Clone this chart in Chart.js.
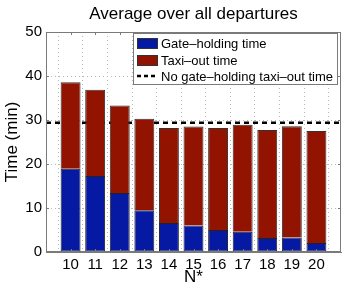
<!DOCTYPE html>
<html>
<head>
<meta charset="utf-8">
<script src="https://cdn.jsdelivr.net/npm/chart.js@4"></script>
<style>
  html, body { margin: 0; padding: 0; background: #fff; }
  #wrap { width: 346px; height: 290px; }
</style>
</head>
<body>
<div id="wrap"><canvas id="myChart" width="346" height="290"></canvas></div>
<script>
// values
const nStar = [10, 11, 12, 13, 14, 15, 16, 17, 18, 19, 20];
const gateHolding = [18.9, 17.3, 13.4, 9.5, 6.6, 6.05, 5.0, 4.6, 3.2, 3.3, 2.05];
const taxiOut = [19.7, 19.6, 19.9, 20.8, 21.6, 22.45, 23.2, 24.3, 24.5, 25.3, 25.45];
const noGateHoldTaxi = 29.4;
const yTicks = [0, 10, 20, 30, 40, 50];
const xMin = 9, xMax = 21;
const chartTitle = 'Average over all departures';

const FONT = "'Liberation Sans', Arial, sans-serif";
const BLUE = '#0619a3';
const RED = '#921400';

// box around plot + inward tick marks + legend + title (matlab style)
const boxPlugin = {
  id: 'box',
  afterDraw(chart) {
    const ctx = chart.ctx;
    const a = chart.chartArea;
    const xs = chart.scales.x, ys = chart.scales.y;
    ctx.save();
    ctx.strokeStyle = '#7a7a7a';
    ctx.lineWidth = 1;
    ctx.strokeRect(a.left + 0.5, a.top + 0.5, a.right - a.left - 1, a.bottom - a.top - 1);
    ctx.beginPath();
    nStar.forEach(n => {
      const px = Math.round(xs.getPixelForValue(n)) + 0.5;
      ctx.moveTo(px, a.top); ctx.lineTo(px, a.top + 3);
      ctx.moveTo(px, a.bottom); ctx.lineTo(px, a.bottom - 3);
    });
    yTicks.forEach(v => {
      const py = Math.round(ys.getPixelForValue(v)) + 0.5;
      ctx.moveTo(a.left, py); ctx.lineTo(a.left + 3, py);
      ctx.moveTo(a.right, py); ctx.lineTo(a.right - 3, py);
    });
    ctx.stroke();

    // title, centred over the plot area
    ctx.fillStyle = '#000';
    ctx.font = '17px ' + FONT;
    ctx.textAlign = 'center';
    ctx.textBaseline = 'alphabetic';
    ctx.fillText(chartTitle, (a.left + a.right) / 2, 19);
    ctx.textAlign = 'left';

    // legend
    const lx = 133, ly = 33, lw = 204, lh = 51;
    ctx.fillStyle = '#fff';
    ctx.fillRect(lx, ly, lw, lh);
    ctx.strokeStyle = '#7a7a7a';
    ctx.strokeRect(lx + 0.5, ly + 0.5, lw, lh);
    ctx.font = '13px ' + FONT;
    ctx.textBaseline = 'middle';
    const rows = [43, 60, 76];
    chart.data.datasets.forEach((ds, i) => {
      const cy = rows[i];
      if (ds.type === 'line') {
        ctx.strokeStyle = '#000';
        ctx.lineWidth = 2.5;
        ctx.setLineDash([4, 3]);
        ctx.beginPath();
        ctx.moveTo(137, cy); ctx.lineTo(158, cy);
        ctx.stroke();
        ctx.setLineDash([]);
      } else {
        ctx.fillStyle = ds.backgroundColor;
        ctx.fillRect(137, cy - 5, 20, 10);
        ctx.strokeStyle = '#333';
        ctx.lineWidth = 1;
        ctx.strokeRect(137.5, cy - 4.5, 20, 10);
      }
      ctx.fillStyle = '#000';
      ctx.fillText(ds.label, 161, cy + 1);
    });
    ctx.restore();
  }
};

const data = {
  datasets: [
    {
      type: 'bar',
      label: 'Gate–holding time',
      data: nStar.map((n, i) => ({ x: n, y: gateHolding[i] })),
      backgroundColor: BLUE,
      borderColor: '#222',
      borderWidth: 1,
      borderSkipped: false,
      barPercentage: 0.81,
      categoryPercentage: 1,
      stack: 's'
    },
    {
      type: 'bar',
      label: 'Taxi–out time',
      data: nStar.map((n, i) => ({ x: n, y: taxiOut[i] })),
      backgroundColor: RED,
      borderColor: '#333',
      borderWidth: 1,
      borderSkipped: 'bottom',
      barPercentage: 0.81,
      categoryPercentage: 1,
      stack: 's'
    },
    {
      type: 'line',
      label: 'No gate–holding taxi–out time',
      data: [{ x: xMin, y: noGateHoldTaxi }, { x: xMax, y: noGateHoldTaxi }],
      borderColor: '#000',
      borderWidth: 2.5,
      borderDash: [5, 4],
      pointRadius: 0,
      fill: false,
      stack: 'line'
    }
  ]
};

const config = {
  type: 'bar',
  data: data,
  plugins: [boxPlugin],
  options: {
    responsive: false,
    animation: false,
    layout: { padding: { right: 5, left: 0, top: 32, bottom: 0 } },
    plugins: {
      legend: { display: false },
      tooltip: { enabled: false },
      title: { display: false }
    },
    scales: {
      x: {
        type: 'linear',
        min: xMin,
        max: xMax,
        stacked: true,
        offset: false,
        afterFit(s) { s.height = 38; },
        afterBuildTicks(s) { s.ticks = nStar.map(v => ({ value: v })); },
        grid: {
          color: '#b8b8b8',
          lineWidth: 1,
          drawTicks: false
        },
        border: { display: true, color: '#7a7a7a', dash: [1, 3] },
        ticks: {
          color: '#000',
          font: { family: FONT, size: 15 },
          padding: 4,
          maxRotation: 0,
          autoSkip: false
        },
        title: {
          display: true,
          text: 'N*',
          color: '#000',
          font: { family: FONT, size: 17 },
          padding: { top: 0, bottom: 2 }
        }
      },
      y: {
        min: 0,
        max: 50,
        stacked: true,
        afterFit(s) { s.width = 46; },
        afterBuildTicks(s) { s.ticks = yTicks.map(v => ({ value: v })); },
        grid: {
          color: '#b8b8b8',
          drawTicks: false
        },
        border: { display: true, color: '#7a7a7a', dash: [1, 3] },
        ticks: {
          color: '#000',
          font: { family: FONT, size: 15 },
          padding: 4
        },
        title: {
          display: true,
          text: 'Time (min)',
          color: '#000',
          font: { family: FONT, size: 17 },
          padding: { top: 2, bottom: 0 }
        }
      }
    }
  }
};

const myChart = new Chart(document.getElementById('myChart'), config);
</script>
</body>
</html>
